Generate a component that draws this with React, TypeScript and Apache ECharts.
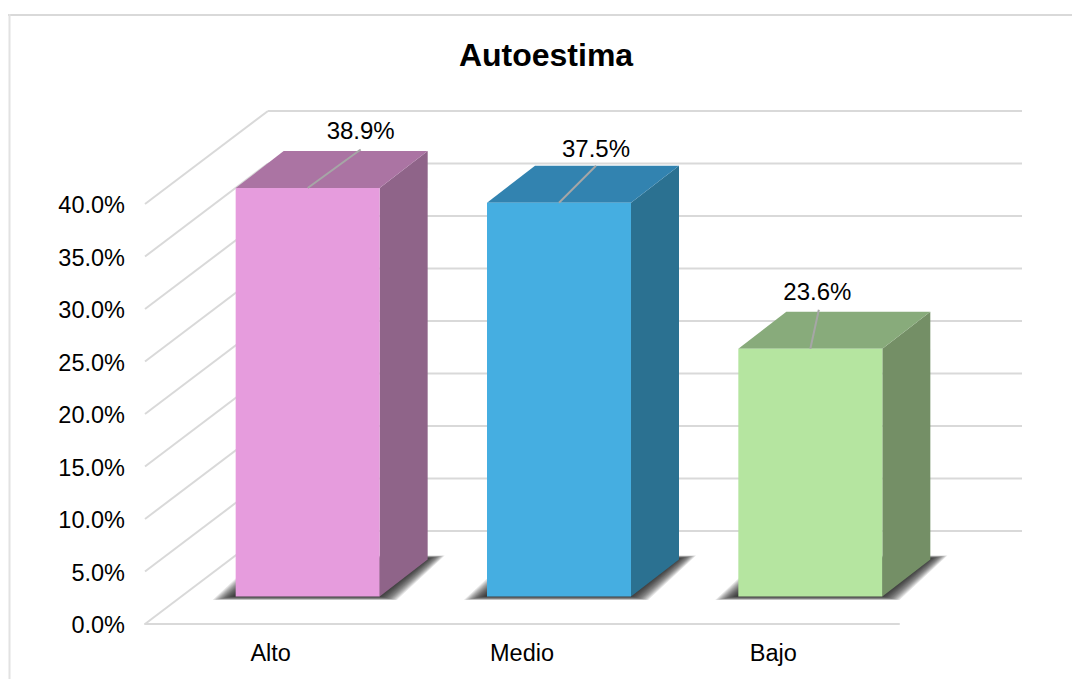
import React, { useEffect, useRef } from "react";
import * as echarts from "echarts";

const categories = ["Alto", "Medio", "Bajo"];
const percentages = [38.9, 37.5, 23.6];
const dataLabels = ["38.9%", "37.5%", "23.6%"];
const frontColors = ["#e69cdd", "#45aee1", "#b5e5a0"];
const topColors = ["#ab74a3", "#3283b0", "#88ab7b"];
const sideColors = ["#8f6489", "#2b7191", "#748f66"];
const yTicks = [0, 5, 10, 15, 20, 25, 30, 35, 40];

// layout constants (pixels)
const WALL_DX = 123;
const WALL_DY = -93;
const BAR_SHIFT_X = 37;
const BAR_SHIFT_Y = -27.5;
const BAR_WIDTH = 144;
const DEPTH_DX = 48;
const DEPTH_DY = -37;
const SHADOW_LAYERS = 14;
const leaderEnds = [[53, -38.5], [37, -37], [8.5, -39]];
const labelOffsets = [[53, -57.5], [37, -54.5], [7, -57.5]];

const FONT = '"Liberation Sans", Arial, sans-serif';
const GRID_COLOR = "#d9d9d9";

export default function App() {
  const ref = useRef<HTMLDivElement>(null);
  useEffect(() => {
    const chart = echarts.init(ref.current!, null, { renderer: "svg" });
    const option: any = {
      animation: false,
      backgroundColor: "#ffffff",
      title: {
        text: "Autoestima",
        left: 541,
        top: 34,
        textAlign: "center",
        textStyle: { fontFamily: FONT, fontSize: 32, fontWeight: "bold", color: "#000" },
      },
      graphic: [
        { type: "line", shape: { x1: 8, y1: 15, x2: 1072, y2: 15 }, style: { stroke: GRID_COLOR, lineWidth: 2 } },
        { type: "line", shape: { x1: 9.5, y1: 14, x2: 9.5, y2: 679 }, style: { stroke: "#e2e2e2", lineWidth: 2 } },
      ],
      grid: { left: 145, top: 204, width: 754, height: 420 },
      xAxis: {
        type: "category",
        data: categories,
        axisTick: { show: false },
        axisLine: { lineStyle: { color: GRID_COLOR, width: 2 } },
        axisLabel: { fontFamily: FONT, fontSize: 23.5, color: "#000", margin: 17 },
      },
      yAxis: {
        type: "value",
        min: 0,
        max: 40,
        interval: 5,
        splitLine: { show: false },
        axisLine: { show: false },
        axisTick: { show: false },
        axisLabel: {
          fontFamily: FONT,
          fontSize: 23.5,
          color: "#000",
          margin: 20,
          verticalAlign: "top",
          lineHeight: 2,
          formatter: (v: number) => v.toFixed(1) + "%",
        },
      },
      series: [
        {
          type: "custom",
          clip: false,
          silent: true,
          data: yTicks.map((v) => [0, v]),
          renderItem: (params: any, api: any) => {
            const y = api.coord([0, api.value(1)])[1];
            const x0 = params.coordSys.x;
            const w = params.coordSys.width;
            const style = { stroke: GRID_COLOR, lineWidth: 2, fill: "none" };
            return {
              type: "group",
              children: [
                { type: "line", shape: { x1: x0, y1: y, x2: x0 + WALL_DX, y2: y + WALL_DY }, style },
                { type: "line", shape: { x1: x0 + WALL_DX, y1: y + WALL_DY, x2: x0 + WALL_DX + w, y2: y + WALL_DY }, style },
              ],
            };
          },
        },
        {
          type: "custom",
          clip: false,
          silent: true,
          data: percentages.map((v, i) => [i, v]),
          renderItem: (params: any, api: any) => {
            const i = api.value(0);
            const top = api.coord([i, api.value(1)]);
            const base = api.coord([i, 0]);
            const cx = top[0] + BAR_SHIFT_X;
            const l = cx - BAR_WIDTH / 2;
            const r = cx + BAR_WIDTH / 2;
            const t = top[1] + BAR_SHIFT_Y;
            const b = base[1] + BAR_SHIFT_Y;
            const dx = DEPTH_DX;
            const dy = DEPTH_DY;
            const shadow = Array.from({ length: SHADOW_LAYERS }, (_, k) => {
              const f = k / (SHADOW_LAYERS - 1);
              const el = 2 + 21 * f;
              const er = 17 * f;
              const eb = 3.5 * f;
              const et = 1 + 3 * f;
              return {
                type: "polygon",
                shape: {
                  points: [
                    [l - el, b + eb],
                    [r + er, b + eb],
                    [r + dx + er, b + dy - et],
                    [l + dx - el, b + dy - et],
                  ],
                },
                style: { fill: "rgba(20,20,20,0.11)" },
              };
            }).reverse();
            return {
              type: "group",
              children: [
                ...shadow,
                {
                  type: "polygon",
                  shape: { points: [[r, t], [r + dx, t + dy], [r + dx, b + dy], [r, b]] },
                  style: { fill: sideColors[i] },
                },
                {
                  type: "polygon",
                  shape: { points: [[l, t], [l + dx, t + dy], [r + dx, t + dy], [r, t]] },
                  style: { fill: topColors[i] },
                },
                {
                  type: "rect",
                  shape: { x: l, y: t, width: BAR_WIDTH, height: b - t },
                  style: { fill: frontColors[i] },
                },
                {
                  type: "line",
                  shape: { x1: cx, y1: t, x2: cx + leaderEnds[i][0], y2: t + leaderEnds[i][1] },
                  style: { stroke: "#a6a6a6", lineWidth: 2 },
                },
                {
                  type: "text",
                  style: {
                    text: dataLabels[i],
                    x: cx + labelOffsets[i][0],
                    y: t + labelOffsets[i][1],
                    fill: "#000",
                    font: `24px ${FONT}`,
                    textAlign: "center",
                    textVerticalAlign: "middle",
                  },
                },
              ],
            };
          },
        },
      ],
    };
    chart.setOption(option);
    return () => chart.dispose();
  }, []);
  return (
    <div
      ref={ref}
      style={{ position: "absolute", left: 0, top: 0, width: 1072, height: 679, background: "#fff" }}
    />
  );
}
